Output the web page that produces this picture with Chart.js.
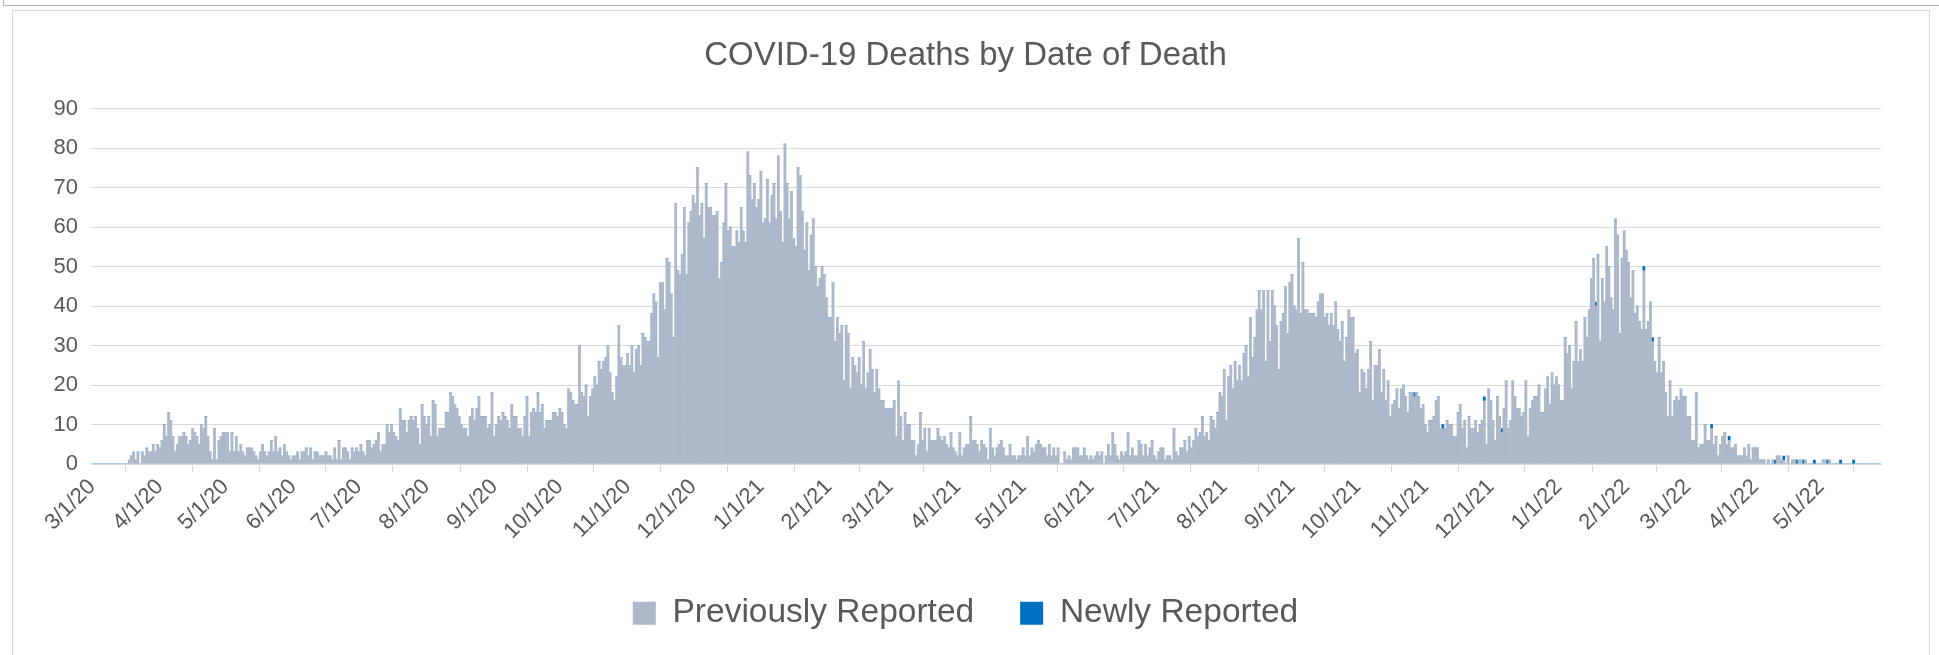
<!DOCTYPE html>
<html>
<head>
<meta charset="utf-8">
<title>COVID-19 Deaths by Date of Death</title>
<script src="https://cdn.jsdelivr.net/npm/chart.js@4.4.0/dist/chart.umd.min.js"></script>
<style>
    html, body { margin: 0; padding: 0; background: #fff; }
    #wrap { position: relative; width: 1939px; height: 655px; overflow: hidden; }
    #outer { position: absolute; left: 3px; top: -20px; width: 2000px; height: 26px; border: 1px solid #b4b4b4; box-sizing: border-box; }
    #frame { position: absolute; left: 12px; top: 10px; width: 1918px; height: 660px; border: 1px solid #d9d9d9; box-sizing: border-box; }
    #deathsChart { position: absolute; left: 0; top: 0; }
</style>
</head>
<body>
<div id="wrap">
    <div id="outer"></div>
    <div id="frame"></div>
    <canvas id="deathsChart" width="1939" height="655"></canvas>
</div>
<script>
// Daily deaths, previously reported, one line per month
const prev2020 = [
    0,0,0,0,0,0,0,0,0,0,0,0,0,0,0,0,0,1,2,3,1,3,0,3,2,4,3,3,5,3,5,
    4,6,10,7,13,11,7,3,5,7,7,8,7,5,6,9,8,7,5,10,9,12,7,3,1,9,1,6,7,8,
    8,8,3,8,3,7,3,5,3,2,4,4,4,3,2,1,3,5,3,2,3,6,3,7,3,4,2,5,3,2,1,
    2,2,3,1,3,3,4,2,4,1,3,3,2,2,2,3,2,2,1,4,1,6,1,4,4,3,1,4,3,4,
    3,5,3,2,6,6,4,5,6,8,3,5,5,10,8,10,8,7,6,14,11,11,8,11,12,11,12,9,5,15,12,
    10,12,7,16,15,7,9,9,9,13,13,18,17,15,14,12,10,9,9,7,12,14,11,14,17,12,12,12,9,10,18,
    7,10,12,11,13,12,11,9,15,12,12,9,9,7,12,17,7,13,14,13,18,13,15,9,11,11,11,13,13,12,
    14,13,10,9,19,18,16,15,15,30,18,17,20,12,17,19,22,20,26,24,26,27,30,23,18,16,22,35,27,25,25,
    28,25,30,23,29,30,25,33,32,31,31,38,43,41,27,46,46,39,52,51,43,32,66,49,48,53,65,48,61,64,
    68,66,75,63,66,57,71,65,65,63,63,64,47,51,61,71,59,60,55,55,59,56,65,59,56,79,73,67,71,65,67
];
const prev2021 = [
    74,61,62,72,61,68,71,62,78,64,56,81,71,62,69,57,55,75,73,64,54,61,49,58,62,50,45,47,50,48,42,
    37,37,46,31,37,33,35,21,35,33,19,27,25,23,27,20,31,19,23,29,24,18,24,19,16,16,14,14,
    14,14,16,7,21,12,6,13,10,10,6,6,2,5,13,6,9,3,9,6,6,6,9,7,6,7,5,4,8,4,3,
    2,8,2,4,5,5,12,6,6,5,3,6,5,4,1,9,4,2,4,5,6,4,2,2,5,2,2,1,2,2,
    4,2,7,2,4,3,5,6,5,4,4,2,5,2,4,2,4,0,0,3,1,2,1,4,4,4,2,2,4,2,1,
    2,1,2,3,2,3,0,2,5,2,8,5,2,1,3,2,3,8,2,4,2,2,6,5,2,5,2,4,6,2,
    1,3,4,4,1,2,2,1,9,3,2,4,4,6,3,7,4,6,9,7,8,12,7,8,6,12,11,9,13,18,17,
    24,11,22,25,19,26,21,25,21,28,30,22,37,27,32,39,44,39,44,26,44,31,44,40,35,24,36,38,45,33,46,
    48,40,39,57,38,51,39,39,38,38,38,37,41,43,43,37,38,35,38,35,41,34,31,36,26,32,39,37,37,28,
    29,18,24,23,19,24,31,16,25,25,29,18,24,16,21,12,15,16,19,14,19,20,17,13,18,18,17,18,17,14,15,
    10,8,11,11,12,16,17,9,9,9,11,10,10,7,7,13,15,9,11,4,12,9,9,11,8,10,11,16,5,19,
    16,11,6,17,12,8,14,21,9,11,21,17,14,14,12,13,21,7,14,16,17,17,20,13,13,19,22,15,23,20,22
];
const prev2022 = [
    20,16,16,32,28,30,19,26,36,26,29,26,37,32,39,47,52,40,53,31,47,41,55,50,42,39,62,58,33,52,59,
    54,51,42,49,38,40,36,34,49,34,36,41,31,26,23,32,23,26,18,12,21,12,16,17,16,19,17,17,
    12,12,6,6,18,4,5,5,10,6,6,9,5,7,2,5,7,8,5,6,4,4,5,2,2,2,4,2,5,1,4,
    4,4,1,1,1,0,1,0,1,0,2,2,1,1,0,2,0,1,1,0,1,1,0,1,0,0,0,0,0,0,
    0,1,1,0,1,0,0,0,0,0,0,0,0,0,0,0,0,0,0,0,0,0,0,0,0,0,0,0
];

// Newly reported deaths (date, count)
const newDates = ['10/27/21', '11/9/21', '11/28/21', '12/6/21', '1/18/22', '2/9/22', '2/13/22',
    '3/12/22', '3/20/22', '4/10/22', '4/14/22', '4/20/22', '4/23/22', '4/28/22', '5/4/22',
    '5/10/22', '5/16/22'];
const newCounts = [1, 1, 1, 1, 1, 1, 1, 1, 1, 1, 1, 1, 1, 1, 1, 1, 1];

const previouslyReported = prev2020.concat(prev2021, prev2022);

// Category labels: one per day from 3/1/20
const labels = [];
const day = new Date(2020, 2, 1);
for (let i = 0; i < previouslyReported.length; i++) {
    labels.push((day.getMonth() + 1) + '/' + day.getDate() + '/' + String(day.getFullYear()).slice(2));
    day.setDate(day.getDate() + 1);
}

const newlyReported = labels.map(function(l) {
    const k = newDates.indexOf(l);
    return k >= 0 ? newCounts[k] : 0;
});

const textColor = '#595959';
const gridColor = '#d9d9d9';
Chart.defaults.font.family = '"Liberation Sans", Arial, sans-serif';
Chart.defaults.color = textColor;

const ctx = document.getElementById('deathsChart').getContext('2d');
new Chart(ctx, {
    type: 'bar',
    data: {
        labels: labels,
        datasets: [{
            label: 'Previously Reported',
            data: previouslyReported,
            backgroundColor: '#adb9ca',
            borderWidth: 0,
            barPercentage: 1,
            categoryPercentage: 1
        }, {
            label: 'Newly Reported',
            data: newlyReported,
            backgroundColor: '#0070c0',
            borderWidth: 0,
            barPercentage: 1,
            categoryPercentage: 1
        }]
    },
    options: {
        responsive: false,
        animation: false,
        devicePixelRatio: 1,
        layout: {
            padding: { top: 16, right: 58, bottom: 15, left: 50 }
        },
        plugins: {
            title: {
                display: true,
                text: 'COVID-19 Deaths by Date of Death',
                color: textColor,
                font: { size: 33, weight: 'normal' },
                padding: { top: 20, bottom: 33 }
            },
            legend: {
                display: true,
                position: 'bottom',
                labels: {
                    color: textColor,
                    font: { size: 33.5 },
                    boxWidth: 23,
                    boxHeight: 23,
                    padding: 46
                }
            },
            tooltip: { enabled: false }
        },
        scales: {
            x: {
                stacked: true,
                afterFit: function(scale) { scale.height = 86.5; },
                border: { color: gridColor },
                grid: {
                    drawOnChartArea: false,
                    drawTicks: true,
                    tickLength: 8,
                    color: gridColor
                },
                ticks: {
                    autoSkip: false,
                    maxRotation: 45,
                    minRotation: 45,
                    padding: 2,
                    color: textColor,
                    font: { size: 22 },
                    callback: function(val, i) {
                        const l = labels[i];
                        return l.split('/')[1] === '1' ? l : null;
                    }
                }
            },
            y: {
                stacked: true,
                min: 0,
                max: 90,
                afterFit: function(scale) { scale.width = 41; },
                border: { display: false },
                grid: { color: gridColor, drawTicks: false },
                ticks: {
                    stepSize: 10,
                    padding: 13,
                    color: textColor,
                    font: { size: 22 }
                }
            }
        }
    }
});
</script>
</body>
</html>
